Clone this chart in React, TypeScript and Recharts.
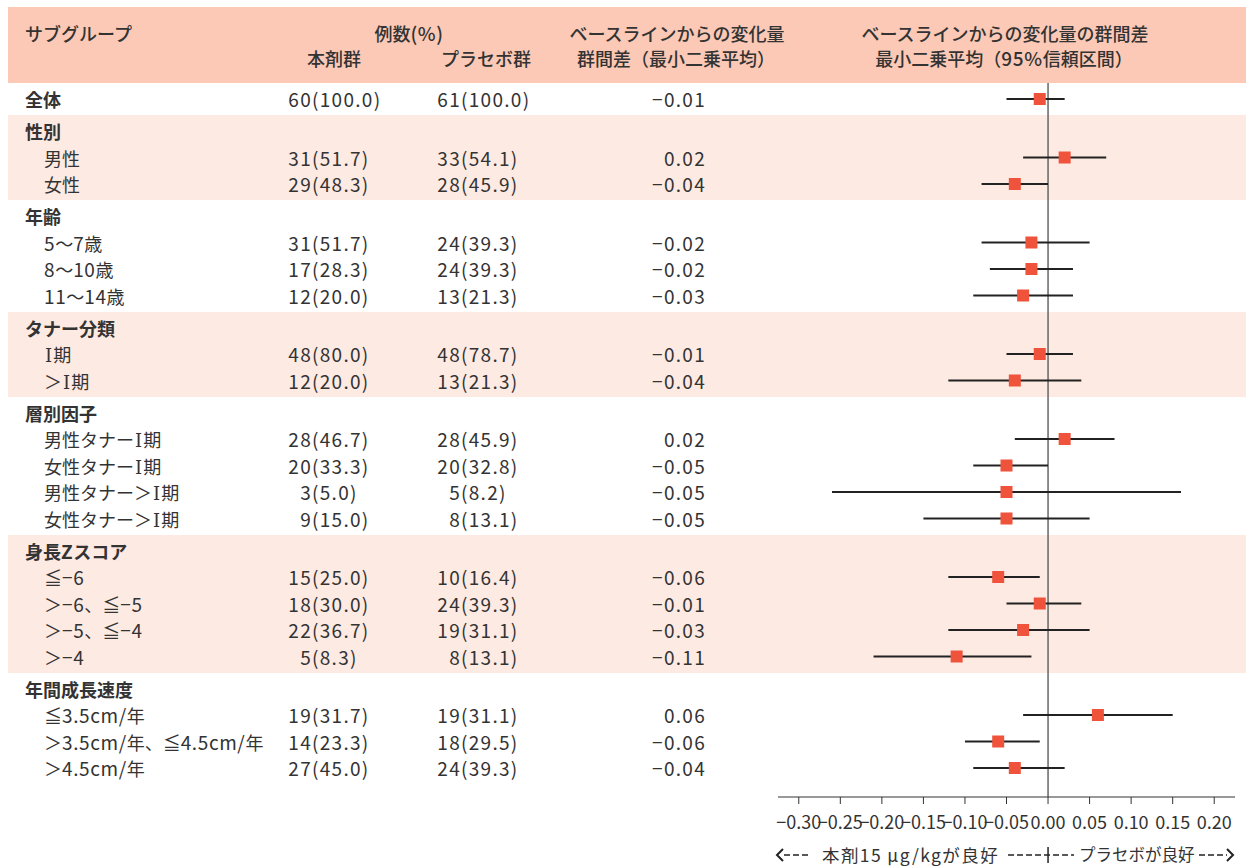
import React from 'react';
import { ScatterChart, Scatter, XAxis, YAxis, ErrorBar, ReferenceLine } from 'recharts';

// subgroup rows of the forest plot
const groupTitles = ['全体', '性別', '年齢', 'タナー分類', '層別因子', '身長Zスコア', '年間成長速度'];
const subgroups = [
  '全体',
  '男性', '女性',
  '5〜7歳', '8〜10歳', '11〜14歳',
  'Ⅰ期', '＞Ⅰ期',
  '男性タナーⅠ期', '女性タナーⅠ期', '男性タナー＞Ⅰ期', '女性タナー＞Ⅰ期',
  '≦−6', '＞−6、≦−5', '＞−5、≦−4', '＞−4',
  '≦3.5cm/年', '＞3.5cm/年、≦4.5cm/年', '＞4.5cm/年',
];
const groupOf = [0, 1, 1, 2, 2, 2, 3, 3, 4, 4, 4, 4, 5, 5, 5, 5, 6, 6, 6];

const nDrug = [60, 31, 29, 31, 17, 12, 48, 12, 28, 20, 3, 9, 15, 18, 22, 5, 19, 14, 27];
const pctDrug = [100.0, 51.7, 48.3, 51.7, 28.3, 20.0, 80.0, 20.0, 46.7, 33.3, 5.0, 15.0, 25.0, 30.0, 36.7, 8.3, 31.7, 23.3, 45.0];
const nPlacebo = [61, 33, 28, 24, 24, 13, 48, 13, 28, 20, 5, 8, 10, 24, 19, 8, 19, 18, 24];
const pctPlacebo = [100.0, 54.1, 45.9, 39.3, 39.3, 21.3, 78.7, 21.3, 45.9, 32.8, 8.2, 13.1, 16.4, 39.3, 31.1, 13.1, 31.1, 29.5, 39.3];

// LS mean difference and 95% CI
const lsDiff = [-0.01, 0.02, -0.04, -0.02, -0.02, -0.03, -0.01, -0.04, 0.02, -0.05, -0.05, -0.05, -0.06, -0.01, -0.03, -0.11, 0.06, -0.06, -0.04];
const ciLow = [-0.05, -0.03, -0.08, -0.08, -0.07, -0.09, -0.05, -0.12, -0.04, -0.09, -0.26, -0.15, -0.12, -0.05, -0.12, -0.21, -0.03, -0.10, -0.09];
const ciHigh = [0.02, 0.07, 0.00, 0.05, 0.03, 0.03, 0.03, 0.04, 0.08, 0.00, 0.16, 0.05, -0.01, 0.04, 0.05, -0.02, 0.15, -0.01, 0.02];

const xTicks = [-0.3, -0.25, -0.2, -0.15, -0.1, -0.05, 0, 0.05, 0.1, 0.15, 0.2];
const bandedGroups = [1, 3, 5];

const W = 1246;
const H = 867;
const TOP = 83;
const AXIS_Y = 797;
const PLOT_LEFT = 778;
const PLOT_RIGHT = 1235;
const ROW_H = 26.5;
const GAP = 5.5 / ROW_H;
const X_MIN = -0.325;
const X_MAX = 0.225;
const X_AXIS_H = 30;

const FONT = "'Noto Sans CJK JP', 'Noto Sans', sans-serif";
const TEXT = '#333';
const HEADER_BG = '#FBC9B6';
const BAND_BG = '#FDEAE3';
const MARKER = '#EF533C';

const fmtNum = (v: number) => (v < 0 ? '−' : '') + Math.abs(v).toFixed(2);

// lay the rows out: each group is a title row followed by its subgroups
type Row = { title: boolean; text: string; slot: number; idx: number | null };
const rows: Row[] = [];
const slotOf: number[] = [];
const groupSpan: { start: number; end: number }[] = [];
let r = 0;
groupTitles.forEach((title, g) => {
  const slot = () => r + 0.5 + g * GAP + GAP / 2;
  const members = subgroups.map((_, i) => i).filter((i) => groupOf[i] === g);
  const start = r;
  if (g === 0) {
    slotOf[members[0]] = slot();
    rows.push({ title: true, text: title, slot: slot(), idx: members[0] });
    r++;
  } else {
    rows.push({ title: true, text: title, slot: slot(), idx: null });
    r++;
    members.forEach((i) => {
      slotOf[i] = slot();
      rows.push({ title: false, text: subgroups[i], slot: slot(), idx: i });
      r++;
    });
  }
  groupSpan.push({ start, end: r });
});

const plotData = subgroups.map((name, i) => ({
  name,
  x: lsDiff[i],
  y: slotOf[i],
  err: [lsDiff[i] - ciLow[i], ciHigh[i] - lsDiff[i]],
}));

const yPx = (slot: number) => TOP + slot * ROW_H;

const SquareMarker = (props: any) => {
  const { cx, cy } = props;
  if (cx == null || cy == null) return null;
  return <rect x={cx - 6} y={cy - 6} width={12} height={12} fill={MARKER} />;
};

const abs = (left: number, top: number, extra: React.CSSProperties = {}): React.CSSProperties => ({
  position: 'absolute',
  left,
  top,
  whiteSpace: 'nowrap',
  ...extra,
});

// latin runs (digits, units) are set a little larger and looser than the kana/kanji;
// the roman numeral uses a narrow serif face
const LATIN = /^[0-9A-Za-z.\/%μ−()]+$/;
const renderRuns = (text: string) =>
  text.split(/([0-9A-Za-z.\/%μ−()]+|Ⅰ)/).filter(Boolean).map((part, k) => {
    if (part === 'Ⅰ') {
      return <span key={k} style={{ fontFamily: "'DejaVu Serif', 'Liberation Serif', serif", fontSize: 18, margin: '0 1px' }}>{part}</span>;
    }
    if (LATIN.test(part)) {
      return <span key={k} style={{ fontSize: 19, letterSpacing: 0.6 }}>{part}</span>;
    }
    return <span key={k}>{part}</span>;
  });

function Cell({ x, y, text, align = 'left', bold = false, weight, numeric = false }: {
  x: number; y: number; text: string; align?: 'left' | 'right' | 'center'; bold?: boolean; weight?: number; numeric?: boolean;
}) {
  const w = 400;
  const left = align === 'left' ? x : align === 'right' ? x - w : x - w / 2;
  return (
    <div
      style={abs(left, y - 13, {
        width: w,
        height: 26,
        lineHeight: '26px',
        textAlign: align,
        fontSize: numeric ? 19 : 18,
        letterSpacing: numeric ? 1.3 : undefined,
        fontWeight: weight ?? (bold ? 700 : 400),
        color: TEXT,
      })}
    >
      {numeric ? text : renderRuns(text)}
    </div>
  );
}

export default function App() {
  const zeroX = PLOT_LEFT + ((0 - X_MIN) / (X_MAX - X_MIN)) * (PLOT_RIGHT - PLOT_LEFT);
  const noteY = 855;

  return (
    <div style={{ position: 'relative', width: W, height: H, overflow: 'hidden', background: '#fff', fontFamily: FONT }}>
      <style>{'body{margin:0;overflow:hidden}'}</style>

      {/* header and group bands */}
      <div style={abs(8, 7, { width: W - 8, height: TOP - 7, background: HEADER_BG })} />
      {bandedGroups.map((g) => {
        const top = yPx(groupSpan[g].start + g * GAP);
        const bottom = yPx(groupSpan[g].end + (g + 1) * GAP);
        return <div key={g} style={abs(8, top, { width: W - 8, height: bottom - top, background: BAND_BG })} />;
      })}

      {/* column headers */}
      <Cell x={25} y={33} text="サブグループ" weight={500} />
      <Cell x={409} y={33} text="例数(%)" align="center" weight={500} />
      <Cell x={334} y={58} text="本剤群" align="center" weight={500} />
      <Cell x={486} y={58} text="プラセボ群" align="center" weight={500} />
      <Cell x={677} y={33} text="ベースラインからの変化量" align="center" weight={500} />
      <Cell x={676} y={58} text="群間差（最小二乗平均）" align="center" weight={500} />
      <Cell x={1005} y={33} text="ベースラインからの変化量の群間差" align="center" weight={500} />
      <Cell x={1004} y={58} text="最小二乗平均（95%信頼区間）" align="center" weight={500} />

      {/* table body */}
      {rows.map((row, k) => {
        const y = yPx(row.slot);
        const i = row.idx;
        return (
          <React.Fragment key={k}>
            <Cell x={row.title ? 25 : 44} y={y} text={row.text} bold={row.title} />
            {i !== null && (
              <>
                <Cell x={312} y={y} text={String(nDrug[i])} align="right" numeric />
                <Cell x={312} y={y} text={`(${pctDrug[i].toFixed(1)})`} numeric />
                <Cell x={461} y={y} text={String(nPlacebo[i])} align="right" numeric />
                <Cell x={461} y={y} text={`(${pctPlacebo[i].toFixed(1)})`} numeric />
                <Cell x={706} y={y} text={fmtNum(lsDiff[i])} align="right" numeric />
              </>
            )}
          </React.Fragment>
        );
      })}

      <div style={abs(0, 0)}>
        <ScatterChart
          width={W}
          height={H}
          margin={{ top: TOP, left: PLOT_LEFT, right: W - PLOT_RIGHT, bottom: H - AXIS_Y - X_AXIS_H }}
        >
          <XAxis
            type="number"
            dataKey="x"
            domain={[X_MIN, X_MAX]}
            ticks={xTicks}
            interval={0}
            allowDataOverflow
            tickFormatter={fmtNum}
            height={X_AXIS_H}
            tickSize={7}
            tickMargin={12}
            tick={{ fontSize: 18, fill: TEXT, fontFamily: FONT }}
            tickLine={{ stroke: TEXT }}
            axisLine={{ stroke: TEXT }}
          />
          <YAxis type="number" dataKey="y" domain={[0, (AXIS_Y - TOP) / ROW_H]} reversed hide width={0} />
          <ReferenceLine x={0} stroke="#666" strokeWidth={1.5} />
          <Scatter data={plotData} shape={<SquareMarker />} isAnimationActive={false}>
            <ErrorBar dataKey="err" direction="x" width={0} stroke="#222" strokeWidth={2} isAnimationActive={false} />
          </Scatter>
        </ScatterChart>
      </div>

      {/* favours annotation under the axis */}
      <svg style={abs(0, 0)} width={W} height={H}>
        <g stroke="#222" fill="none">
          <polyline points={`${PLOT_LEFT + 5},${noteY - 6} ${PLOT_LEFT - 1},${noteY} ${PLOT_LEFT + 5},${noteY + 6}`} strokeWidth={2} />
          <line x1={PLOT_LEFT + 6} x2={PLOT_LEFT + 32} y1={noteY} y2={noteY} strokeWidth={1.6} strokeDasharray="6 3" />
          <line x1={zeroX - 40} x2={zeroX + 26} y1={noteY} y2={noteY} strokeWidth={1.6} strokeDasharray="6 3" />
          <line x1={zeroX} x2={zeroX} y1={noteY - 8} y2={noteY + 8} strokeWidth={1.5} />
          <line x1={PLOT_RIGHT - 36} x2={PLOT_RIGHT - 8} y1={noteY} y2={noteY} strokeWidth={1.6} strokeDasharray="6 3" />
          <polyline points={`${PLOT_RIGHT - 8},${noteY - 6} ${PLOT_RIGHT - 2},${noteY} ${PLOT_RIGHT - 8},${noteY + 6}`} strokeWidth={2} />
        </g>
        <text x={822} y={noteY - 1} dominantBaseline="central" fontSize={17.5} fill={TEXT} fontFamily={FONT} letterSpacing={1.4}>
          本剤15 μg/kgが良好
        </text>
        <text x={1079} y={noteY - 1} dominantBaseline="central" fontSize={16.5} fill={TEXT} fontFamily={FONT}>
          プラセボが良好
        </text>
      </svg>
    </div>
  );
}
